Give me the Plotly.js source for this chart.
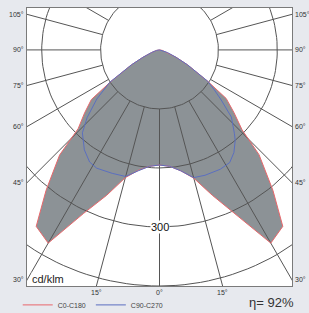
<!DOCTYPE html>
<html><head><meta charset="utf-8">
<script src="https://cdn.plot.ly/plotly-3.0.1.min.js"></script>
<style>html,body{margin:0;padding:0;background:#e7e9ee;}#chart{width:309px;height:313px;}</style>
</head><body><div id="chart"></div>
<script>
// C0-C180 plane (angle in degrees from nadir, negative = C180 side), cd/klm
const anglesC0 = [-90,-80,-72,-66,-62,-57,-54,-50,-46,-43.6,-39,-35,-30,-25,-20,-15,-10,-5,0,5,10,15,20,25,30,35,39,43.6,46,50,54,57,62,66,72,80,90];
const cdC0     = [0,5,14,31,54,99,143,166,192,246,306,365,378,306,262,224,207,198,195,198,208,225,262,308,378,365,306,245,195,165,140,98,54,31,14,5,0];
// C90-C270 plane
const anglesC90 = [-90,-80,-72,-66,-62,-57,-52,-47,-43,-37,-32,-28,-21,-15,-10,-5,0,5,10,15,20,27,32,36,40,42,47,51,54,57,62,66,72,80,90];
const cdC90     = [0,5,14,31,54,101,135,168,192,212,224,227,224,222,208,198,195,198,208,224,226,227,225,215,200,190,167,135,115,98,54,31,14,5,0];

const ringValues = [100,200,300,400,500];
const spokeAngles = [-180,-165,-150,-135,-120,-105,-90,-75,-60,-45,-30,-15,0,15,30,45,60,75,90,105,120,135,150,165,180];
const sideLabels = [105,90,75,60,45,30];
const bottomLabels = [-15,0,15];
const ringLabel = 300;
const unitLabel = 'cd/klm';
const efficiencyLabel = 'η= 92%';
const seriesNames = ['C0-C180','C90-C270'];

const X0 = -225, X1 = 225, Y0 = -400, Y1 = 71;
const rad = d => d*Math.PI/180;
function toXY(angles, vals){
  const x=[], y=[];
  angles.forEach((a,i)=>{ x.push(vals[i]*Math.sin(rad(a))); y.push(-vals[i]*Math.cos(rad(a))); });
  return {x,y};
}
const c0 = toXY(anglesC0, cdC0);
const c90 = toXY(anglesC90, cdC90);

// grid
const gx=[], gy=[];
ringValues.forEach(r=>{
  for(let a=0;a<=360;a+=2){ gx.push(r*Math.sin(rad(a))); gy.push(-r*Math.cos(rad(a))); }
  gx.push(null); gy.push(null);
});
spokeAngles.forEach(a=>{
  gx.push(100*Math.sin(rad(a))); gy.push(-100*Math.cos(rad(a)));
  gx.push(700*Math.sin(rad(a))); gy.push(-700*Math.cos(rad(a)));
  gx.push(null); gy.push(null);
});

const font = 'Liberation Sans, Arial, sans-serif';
const traces = [
  {x:c0.x, y:c0.y, type:'scatter', mode:'lines', fill:'toself', fillcolor:'#8c9296', line:{width:0}, showlegend:false, hoverinfo:'skip'},
  {x:gx, y:gy, type:'scatter', mode:'lines', line:{color:'#555555', width:1}, showlegend:false, hoverinfo:'skip'},
  {x:c0.x, y:c0.y, type:'scatter', mode:'lines', name:seriesNames[0], line:{color:'#e8676b', width:1}},
  {x:c90.x, y:c90.y, type:'scatter', mode:'lines', name:seriesNames[1], line:{color:'#5b6fc0', width:1}}
];

const ann = [];
sideLabels.forEach(a=>{
  const r = X1/Math.sin(rad(a));
  const y = -r*Math.cos(rad(a));
  ann.push({x:X0, y:y, xref:'x', yref:'y', text:a+'°', showarrow:false, xanchor:'right', yanchor:'middle', xshift:-1, font:{family:font,size:7,color:'#333'}});
  ann.push({x:X1, y:y, xref:'x', yref:'y', text:a+'°', showarrow:false, xanchor:'left', yanchor:'middle', xshift:1, font:{family:font,size:7,color:'#333'}});
});
bottomLabels.forEach(a=>{
  const r = -Y0/Math.cos(rad(a));
  const x = r*Math.sin(rad(a));
  ann.push({x:x, y:Y0, xref:'x', yref:'y', text:Math.abs(a)+'°', showarrow:false, xanchor:'center', yanchor:'top', yshift:-1, font:{family:font,size:7,color:'#333'}});
});
ann.push({x:0, y:-ringLabel, xref:'x', yref:'y', text:String(ringLabel), showarrow:false, bgcolor:'#ffffff', borderpad:0, font:{family:font,size:11,color:'#111'}});
ann.push({x:-218, y:-388, xref:'x', yref:'y', text:unitLabel, showarrow:false, xanchor:'left', yanchor:'middle', bgcolor:'#ffffff', borderpad:0, font:{family:font,size:11,color:'#222'}});
ann.push({x:0.83, y:-0.061, xref:'paper', yref:'paper', text:efficiencyLabel, showarrow:false, xanchor:'left', yanchor:'middle', font:{family:font,size:13,color:'#333'}});

const layout = {
  width:309, height:313,
  margin:{l:27, r:17, t:8, b:27, pad:0, autoexpand:false},
  paper_bgcolor:'#e7e9ee', plot_bgcolor:'#ffffff',
  xaxis:{range:[X0,X1], showgrid:false, zeroline:false, showticklabels:false, ticks:'', showline:true, mirror:true, linecolor:'#7a7a7a', linewidth:1, fixedrange:true},
  yaxis:{range:[Y0,Y1], showgrid:false, zeroline:false, showticklabels:false, ticks:'', showline:true, mirror:true, linecolor:'#7a7a7a', linewidth:1, fixedrange:true},
  showlegend:true,
  legend:{orientation:'h', x:-0.035, xanchor:'left', y:-0.068, yanchor:'middle', bgcolor:'rgba(0,0,0,0)', font:{family:font,size:7,color:'#444'}, itemwidth:30},
  annotations:ann
};
Plotly.newPlot('chart', traces, layout, {displayModeBar:false, staticPlot:true});
</script>
</body></html>
